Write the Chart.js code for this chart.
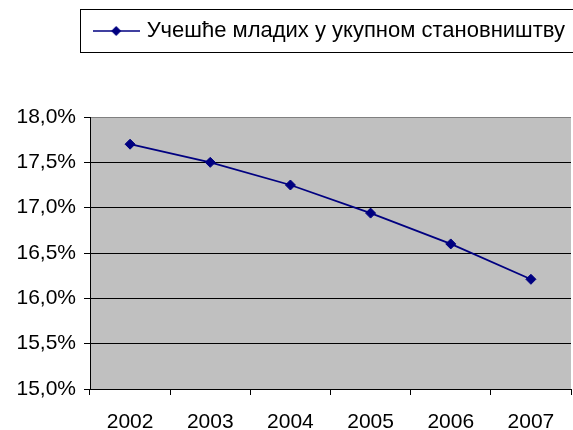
<!DOCTYPE html>
<html>
<head>
<meta charset="utf-8">
<script src="https://cdn.jsdelivr.net/npm/chart.js@4/dist/chart.umd.min.js"></script>
<style>
  html, body { margin: 0; padding: 0; background: #fff; overflow: hidden; }
  canvas { display: block; }
</style>
</head>
<body>
<canvas id="c" width="577" height="430"></canvas>
<script>
const years = ['2002', '2003', '2004', '2005', '2006', '2007'];
const youthShare = [17.7, 17.5, 17.25, 16.94, 16.6, 16.21];
const seriesLabel = 'Учешће младих у укупном становништву';
const yMin = 15.0, yMax = 18.0, yStep = 0.5;

const NAVY = '#000080';
const FONT = "'Liberation Sans', Arial, sans-serif";

// legend symbol: line with diamond
const sym = document.createElement('canvas');
sym.width = 47; sym.height = 14;
(function () {
  const g = sym.getContext('2d');
  g.strokeStyle = NAVY; g.lineWidth = 1.6;
  g.beginPath(); g.moveTo(0, 7); g.lineTo(47, 7); g.stroke();
  g.fillStyle = NAVY;
  g.beginPath(); g.moveTo(23.5, 2); g.lineTo(28.5, 7); g.lineTo(23.5, 12); g.lineTo(18.5, 7); g.closePath(); g.fill();
})();

const plotBg = {
  id: 'plotBg',
  beforeDraw(chart) {
    const a = chart.chartArea, ctx = chart.ctx;
    ctx.save(); ctx.fillStyle = '#C0C0C0';
    ctx.fillRect(a.left, a.top, a.right - a.left, a.bottom - a.top);
    ctx.restore();
  }
};
const legendBox = {
  id: 'legendBox',
  afterDraw(chart) {
    const lg = chart.legend;
    if (!lg || !lg.legendHitBoxes || !lg.legendHitBoxes.length) return;
    const hb = lg.legendHitBoxes[0];
    const cy = hb.top + hb.height / 2;
    const ctx = chart.ctx;
    ctx.save();
    ctx.strokeStyle = '#000'; ctx.lineWidth = 1;
    ctx.strokeRect(Math.round(hb.left - 17) + 0.5, Math.round(cy - 22) + 0.5, chart.width, 43);
    ctx.restore();
  }
};

new Chart(document.getElementById('c'), {
  type: 'line',
  data: {
    labels: years,
    datasets: [{
      label: seriesLabel,
      data: youthShare,
      borderColor: NAVY,
      backgroundColor: NAVY,
      borderWidth: 1.8,
      pointStyle: 'rectRot',
      pointRadius: 5,
      pointBorderWidth: 1,
      pointBackgroundColor: NAVY,
      pointBorderColor: NAVY,
      tension: 0,
      fill: false
    }]
  },
  options: {
    responsive: false,
    animation: false,
    layout: { padding: 0 },
    plugins: {
      legend: {
        display: true,
        position: 'top',
        align: 'end',
        title: { display: true, text: '', font: { size: 8, lineHeight: 1 }, padding: 0 },
        labels: {
          usePointStyle: true,
          pointStyle: sym,
          pointStyleWidth: 39,
          padding: 12,
          color: '#000',
          font: { family: FONT, size: 22 }
        }
      },
      title: {
        display: true,
        text: '',
        weight: 500,
        font: { size: 10, lineHeight: 1 },
        padding: { top: 0, bottom: 55 }
      },
      tooltip: { enabled: false }
    },
    scales: {
      x: {
        offset: true,
        grid: {
          offset: true,
          drawOnChartArea: false,
          tickLength: 6,
          color: '#000',
          tickColor: '#000'
        },
        border: { color: '#000', width: 1 },
        ticks: { color: '#000', padding: 15, font: { family: FONT, size: 21 }, maxRotation: 0 },
        afterFit(s) { s.height = 41; }
      },
      y: {
        min: yMin,
        max: yMax,
        ticks: {
          stepSize: yStep,
          color: '#000',
          padding: 8,
          font: { family: FONT, size: 21 },
          callback: v => v.toFixed(1).replace('.', ',') + '%'
        },
        grid: {
          tickLength: 6,
          color: ctx => (ctx.tick && ctx.tick.value === yMax) ? '#808080' : '#000',
          tickColor: '#000'
        },
        border: { color: '#000', width: 1 },
        afterFit(s) { s.width = 90; }
      }
    }
  },
  plugins: [plotBg, legendBox]
});
</script>
</body>
</html>
